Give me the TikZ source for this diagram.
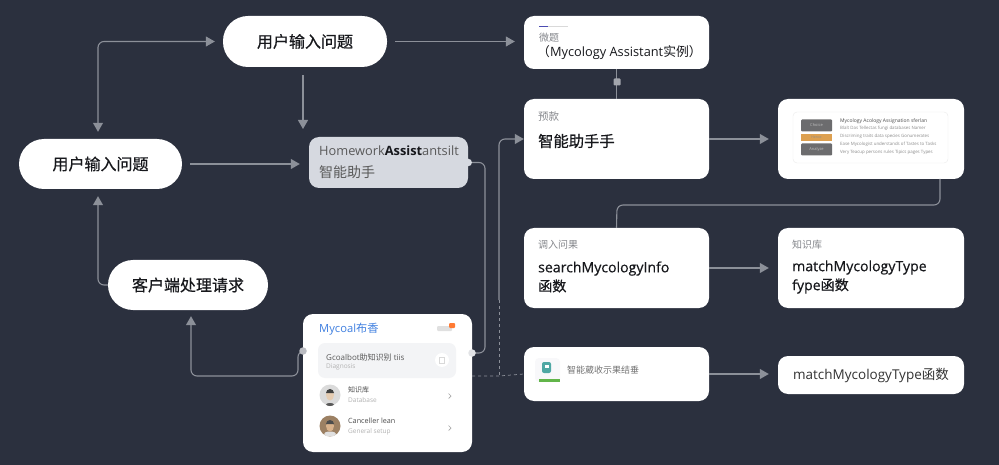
\documentclass[tikz,border=0pt]{standalone}
\usepackage{xcolor}
\usepackage{fontspec}
\usetikzlibrary{arrows.meta}
\setmainfont{Open Sans}
\newfontfamily\cjk{Noto Sans CJK SC}
\newfontfamily\cjkm[FakeBold=0.5]{Noto Sans CJK SC}
\newfontfamily\latinm[FakeBold=0.5]{Open Sans}

\definecolor{bgdark}{HTML}{2B303E}
\definecolor{linegray}{HTML}{8C9099}
\definecolor{hwgray}{HTML}{D6D9E0}
\definecolor{softgray}{HTML}{F3F4F6}
\definecolor{labelgray}{HTML}{85878C}
\definecolor{textdark}{HTML}{17181C}
\definecolor{myblue}{HTML}{3F7FE0}
\definecolor{taborange}{HTML}{DDA050}
\definecolor{tabgray}{HTML}{6C6C6E}
\definecolor{iconteal}{HTML}{4FA8A4}
\definecolor{icongreen}{HTML}{62B54A}

\tikzset{
    pill/.style={draw=none, fill=white, rounded corners=25pt, inner sep=0pt},
    cardbox/.style={draw=none, fill=white, rounded corners=10pt, inner sep=0pt},
    link/.style={draw=linegray, line width=1.1pt, rounded corners=6pt},
    arrowlink/.style={link, -{Triangle[length=9pt,width=10pt]}},
    dot/.style={circle, fill=#1, minimum size=7.5pt, inner sep=0pt},
    pilltext/.style={font=\cjkm\fontsize{16}{18}\selectfont, text=textdark},
    smalllabel/.style={anchor=west, inner sep=0pt, font=\cjk\fontsize{10}{12}\selectfont, text=labelgray},
    maintext/.style={anchor=west, inner sep=0pt, align=left, font=\latinm\fontsize{14.1}{19}\selectfont, text=textdark},
    tinytext/.style={anchor=west, inner sep=0pt, font=\fontsize{4.4}{6}\selectfont, text=black!45},
    rowtext/.style={anchor=west, inner sep=0pt, font=\cjk\fontsize{7}{10}\selectfont, text=black!70},
    rowsub/.style={anchor=west, inner sep=0pt, font=\fontsize{6.5}{8}\selectfont, text=black!30},
}

\begin{document}
\begin{tikzpicture}[x=1pt, y=-1pt]
    \useasboundingbox[fill=bgdark] (0,0) rectangle (999,465);

    % Left column
    \node[pill, minimum width=164pt, minimum height=51pt, pilltext] (askTop) at (305,41.5) {用户输入问题};
    \node[pill, minimum width=163pt, minimum height=50pt, pilltext] (askLeft) at (100.5,164) {用户输入问题};
    \node[pill, minimum width=160pt, minimum height=50pt, pilltext] (client) at (188,285) {客户端处理请求};

    % Homework assistant
    \node[cardbox, fill=hwgray, minimum width=159pt, minimum height=51pt] (homework) at (388.5,162.5) {};
    \node[anchor=west, inner sep=0pt, font=\fontsize{12.8}{15}\selectfont, text=black!65] (homeworkName) at (319,151) {Homework\textcolor{textdark}{\bfseries Assist}antsilt};
    \node[anchor=west, inner sep=0pt, font=\cjk\fontsize{14}{16}\selectfont, text=black!65] (homeworkSub) at (319,172) {智能助手};

    % Middle column
    \node[cardbox, minimum width=185pt, minimum height=53pt] (instance) at (616.5,42.5) {};
    \node[cardbox, minimum width=185pt, minimum height=80pt] (preset) at (616.5,139) {};
    \node[cardbox, minimum width=185pt, minimum height=80pt] (search) at (616.5,268) {};
    \node[cardbox, minimum width=185pt, minimum height=54pt] (result) at (616.5,374) {};

    % Right column
    \node[cardbox, minimum width=186pt, minimum height=80pt] (docs) at (871,139) {};
    \node[cardbox, minimum width=186pt, minimum height=80pt] (knowledge) at (871,268) {};
    \node[cardbox, minimum width=186pt, minimum height=38pt] (matchBox) at (871,375) {};

    % Mobile card
    \node[cardbox, minimum width=169pt, minimum height=138pt] (mobile) at (387.5,383) {};

    % Free ends and bends
    \coordinate (hwTop) at (303,129);
    \coordinate (cardIn) at (303,351);
    \coordinate (cardBend) at (298,376);
    \coordinate (busHw) at (485,300);
    \coordinate (cardOut) at (472,353);
    \coordinate (busMid) at (499,300);
    \coordinate (busLow) at (499,376);
    \coordinate (cardLow) at (472,376);
    \coordinate (docsOut) at (940,179);
    \coordinate (busTop) at (617,205);

    % Connectors
    \draw[arrowlink, {Triangle[length=9pt,width=10pt]}-{Triangle[length=9pt,width=10pt]}, shorten <=7pt, shorten >=8pt] ([xshift=-2.5pt]askLeft.north) |- (askTop.west);
    \draw[arrowlink, shorten <=8pt, shorten >=9pt] (askTop.east) -- (askTop.east -| instance.west);
    \draw[arrowlink, shorten <=8pt] ([xshift=-2pt]askTop.south) -- (hwTop);
    \draw[arrowlink, shorten <=8pt, shorten >=9pt] (askLeft.east) -- (askLeft.east -| homework.west);
    \draw[arrowlink, shorten >=7pt] (client.west) -| ([xshift=-2.5pt]askLeft.south);
    \draw[arrowlink, shorten >=6pt] (cardIn) -| (cardBend) -| ([xshift=3pt]client.south);
    \draw[link] (homework.east) -| (busHw) |- (cardOut);
    \draw[arrowlink] (busMid) |- (preset.west);
    \draw[link, line width=0.7pt, dashed] (busMid) -- (busLow);
    \draw[link, line width=0.7pt, dashed, rounded corners=0pt] (cardLow) -- (busLow) -- (result.west);
    \draw[link] (instance.south) -- (preset.north);
    \draw[arrowlink, shorten >=9pt] (preset.east) -- (docs.west);
    \draw[link] (docsOut) |- (busTop) -- (search.north);
    \draw[arrowlink, shorten >=9pt] (search.east) -- (knowledge.west);
    \draw[arrowlink, shorten >=9pt] (result.east) -- (result.east -| matchBox.west);

    % Dots on the lines
    \node[dot=hwgray] (homeworkDot) at (homework.east) {};
    \node[dot=linegray!60!white] (cardInDot) at (cardIn) {};
    \node[dot=linegray!25!white] (cardOutDot) at (cardOut) {};
    \node[fill=linegray!80!white, minimum size=7pt, inner sep=0pt, rounded corners=1pt] (linkSquare) at (617,82) {};

    % Instance card
    \draw[line width=0.8pt, color=blue!40!gray] (539,26) -- (548,26);
    \draw[line width=0.8pt, color=black!15] (548,26) -- (568,26);
    \node[smalllabel] (instanceLabel) at (539,38) {微题};
    \node[anchor=west, inner sep=0pt, font=\fontsize{12.8}{16}\selectfont, text=textdark] (instanceText) at (537,53) {{\cjk （}Mycology Assistant{\cjk 实例）}};

    % Preset card
    \node[smalllabel, font=\cjk\fontsize{10.5}{12}\selectfont] (presetLabel) at (538,117) {预款};
    \node[maintext, font=\cjkm\fontsize{15.3}{18}\selectfont] (presetText) at (538,141) {智能助手手};

    % Search and knowledge cards
    \node[smalllabel] (searchLabel) at (538,245) {调入问果};
    \node[maintext] (searchText) at (538,277) {searchMycologyInfo\\{\cjkm 函数}};
    \node[smalllabel] (knowledgeLabel) at (792,245) {知识库};
    \node[maintext] (knowledgeText) at (792,277) {matchMycologyType\\fype{\cjkm 函数}};

    % Result card
    \fill[softgray!60!white, rounded corners=4pt] (535,358) rectangle (560,382);
    \fill[iconteal, rounded corners=2pt] (542,362) rectangle (551,373);
    \fill[white] (544.5,365) rectangle (549,368);
    \fill[icongreen] (539,379) rectangle (560,381.5);
    \node[smalllabel, font=\cjk\fontsize{9}{12}\selectfont, text=black!55] (resultText) at (567,370) {智能葳收示果结垂};
    \node[anchor=center, inner sep=0pt, font=\fontsize{13.5}{16}\selectfont, text=black!80] (matchText) at (matchBox.center) {matchMycologyType{\cjk 函数}};

    % Docs preview
    \draw[fill=white, draw=black!8, rounded corners=4pt] (793,112) rectangle (948,163);
    \node[fill=tabgray, rounded corners=1pt, minimum width=31pt, minimum height=12pt, inner sep=0pt, font=\fontsize{4}{5}\selectfont, text=white!75!black] (tabOne) at (816.5,125.5) {Choice};
    \node[fill=taborange, minimum width=31pt, minimum height=7pt, inner sep=0pt, font=\fontsize{3.5}{4}\selectfont, text=black!45] (tabTwo) at (816.5,137.5) {Hence};
    \node[fill=tabgray, rounded corners=1pt, minimum width=31pt, minimum height=12pt, inner sep=0pt, font=\fontsize{4}{5}\selectfont, text=white!75!black] (tabThree) at (816.5,149.5) {Analyze};
    \node[tinytext, font=\fontsize{5}{6}\selectfont, text=black!70] (docsLine) at (840,121) {Mycology Acology Assignation sferlan};
    \node[tinytext] (docsLineA) at (840,128) {Blalt Das Tellectas fungi databases Namer};
    \node[tinytext] (docsLineB) at (840,136) {Discriming traits data species Gonumerates};
    \node[tinytext] (docsLineC) at (840,144) {Ease Mycologist understands of Tastes to Tasks};
    \node[tinytext] (docsLineD) at (840,152) {Very Teacup persons rules Tipics pages Types};

    % Mobile card content
    \node[anchor=west, inner sep=0pt, font=\fontsize{11.2}{14}\selectfont, text=myblue] (mobileTitle) at (319,329) {Mycoal{\cjk 布香}};
    \fill[black!12, rounded corners=1pt] (437,326) rectangle (452,331);
    \fill[orange!70!red!80!white, rounded corners=1pt] (449,323) rectangle (455,328);
    \fill[softgray, rounded corners=7pt] (318,343) rectangle (456,378);
    \node[rowtext, font=\fontsize{8}{9}\selectfont, text=black!65] (panelText) at (326,357) {Gcoalbot{\cjk 助知识别} tiis};
    \node[rowsub] (panelSub) at (326,367) {Diagnosis};
    \node[circle, fill=white, minimum size=14pt, inner sep=0pt] (panelIcon) at (442,360) {};
    \draw[black!15, line width=0.6pt] (439.5,357) rectangle (444.5,363);

    % Avatars
    \node[circle, fill=black!14, minimum size=21pt, inner sep=0pt] (avatarOne) at (330,395) {};
    \fill[black!65] (330,404.5) ellipse (4pt and 1.5pt);
    \fill[brown!40!white] (330,395) ellipse (4pt and 5.5pt);
    \fill[black!75] (326,393) arc (180:360:4pt and -4pt) -- cycle;
    \node[circle, fill=brown!45!gray, minimum size=21pt, inner sep=0pt] (avatarTwo) at (330,426) {};
    \fill[black!12] (330,434) ellipse (6pt and 2.5pt);
    \fill[brown!60!white] (330,426) ellipse (4pt and 5.5pt);
    \fill[black!70] (326,424) arc (180:360:4pt and -4pt) -- cycle;

    \node[rowtext] (rowOneText) at (348,390) {知识库};
    \node[rowsub] (rowOneSub) at (348,400) {Database};
    \node[rowtext, font=\fontsize{7.2}{9}\selectfont] (rowTwoText) at (348,421) {Canceller lean};
    \node[rowsub] (rowTwoSub) at (348,432) {General setup};
    \draw[black!35, line width=0.7pt] (448.5,393.5) -- (451,396) -- (448.5,398.5);
    \draw[black!35, line width=0.7pt] (448.5,425.5) -- (451,428) -- (448.5,430.5);
\end{tikzpicture}
\end{document}
